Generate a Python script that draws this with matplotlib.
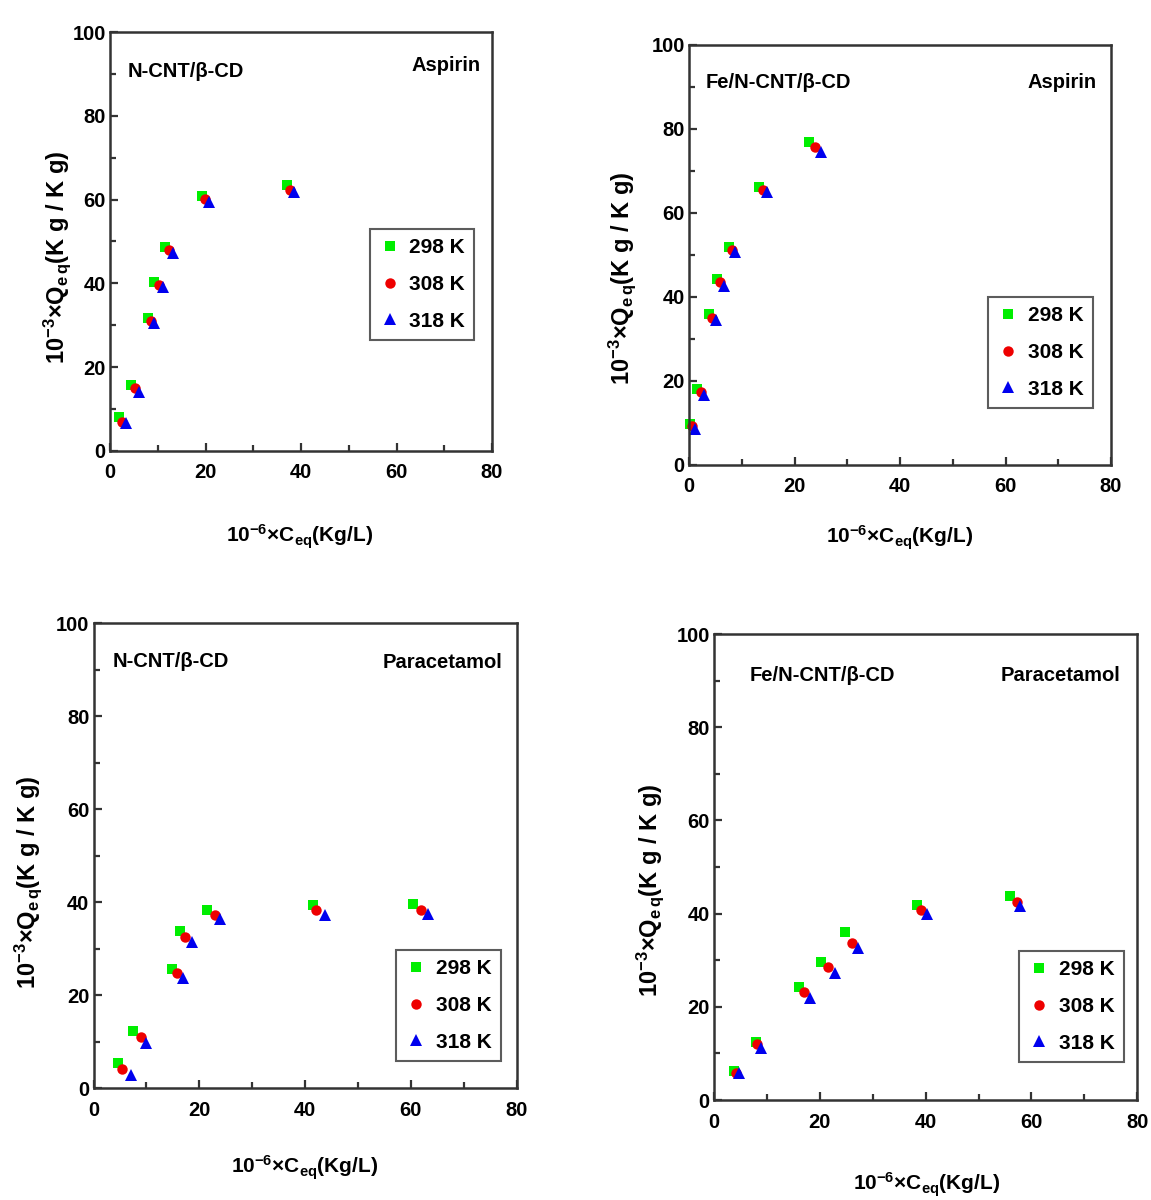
import matplotlib
matplotlib.use("Agg")
import matplotlib.pyplot as plt
from matplotlib.ticker import MultipleLocator
from matplotlib import font_manager

names = {f.name for f in font_manager.fontManager.ttflist}
NARROW = "Liberation Sans Narrow" in names
FONT = "Liberation Sans Narrow" if NARROW else "Liberation Sans"
plt.rcParams['font.family'] = [FONT, 'DejaVu Sans']
plt.rcParams['font.weight'] = 'bold'
plt.rcParams['mathtext.fontset'] = 'custom'
plt.rcParams['mathtext.rm'] = FONT + ':bold'
plt.rcParams['mathtext.it'] = FONT + ':bold'
plt.rcParams['mathtext.bf'] = FONT + ':bold'
K = 1.2 if NARROW else 1.0

series_labels = ["298 K", "308 K", "318 K"]

# Panel A: N-CNT/beta-CD, Aspirin
a_x298 = [1.95, 4.3, 8.0, 9.3, 11.6, 19.3, 37.1]
a_y298 = [8.0, 15.8, 31.8, 40.3, 48.8, 60.9, 63.6]
a_x308 = [2.5, 5.2, 8.6, 10.3, 12.3, 19.9, 37.7]
a_y308 = [7.0, 15.0, 31.1, 39.5, 48.0, 60.1, 62.4]
a_x318 = [3.4, 6.1, 9.3, 11.1, 13.2, 20.8, 38.5]
a_y318 = [6.8, 14.2, 30.5, 39.1, 47.2, 59.4, 61.9]

# Panel B: Fe/N-CNT/beta-CD, Aspirin
b_x298 = [0.2, 1.5, 3.75, 5.4, 7.6, 13.3, 22.7]
b_y298 = [9.8, 18.0, 36.0, 44.2, 52.0, 66.1, 77.0]
b_x308 = [0.57, 2.35, 4.4, 5.9, 8.1, 14.1, 23.9]
b_y308 = [9.3, 17.3, 35.0, 43.5, 51.2, 65.5, 75.6]
b_x318 = [1.08, 2.9, 5.1, 6.6, 8.8, 14.7, 25.0]
b_y318 = [8.5, 16.7, 34.5, 42.7, 50.8, 65.1, 74.6]

# Panel C: N-CNT/beta-CD, Paracetamol
c_x298 = [4.6, 7.5, 14.9, 16.4, 21.5, 41.4, 60.4]
c_y298 = [5.3, 12.3, 25.7, 33.8, 38.3, 39.4, 39.7]
c_x308 = [5.45, 9.05, 15.7, 17.3, 22.9, 42.1, 62.0]
c_y308 = [4.0, 11.0, 24.8, 32.5, 37.3, 38.3, 38.3]
c_x318 = [7.0, 9.9, 16.9, 18.7, 24.0, 43.7, 63.3]
c_y318 = [2.9, 9.7, 23.6, 31.5, 36.3, 37.2, 37.4]

# Panel D: Fe/N-CNT/beta-CD, Paracetamol
d_x298 = [3.8, 7.9, 16.0, 20.3, 24.8, 38.3, 56.0]
d_y298 = [6.3, 12.5, 24.3, 29.6, 36.1, 41.9, 43.8]
d_x308 = [4.15, 8.2, 17.0, 21.5, 26.0, 39.2, 57.2]
d_y308 = [5.9, 12.0, 23.2, 28.6, 33.7, 40.7, 42.5]
d_x318 = [4.8, 8.8, 18.1, 22.8, 27.2, 40.2, 57.9]
d_y318 = [5.7, 11.2, 21.8, 27.2, 32.7, 39.9, 41.6]

W, H = 1151, 1200
fig = plt.figure(figsize=(W / 100, H / 100), dpi=100)

def px_axes(l, r, t, b):
    return fig.add_axes([l / W, (H - b) / H, (r - l) / W, (b - t) / H])

panels = [
    dict(box=(110, 492, 32, 451), data=(a_x298, a_y298, a_x308, a_y308, a_x318, a_y318),
         left="N-CNT/β-CD", lpos=(0.045, 0.905), right="Aspirin", rpos=(0.969, 0.921),
         leg=(0.68, 0.53), ylab=(57, 257), xlab=(300, 537)),
    dict(box=(689, 1111, 45, 465), data=(b_x298, b_y298, b_x308, b_y308, b_x318, b_y318),
         left="Fe/N-CNT/β-CD", lpos=(0.04, 0.91), right="Aspirin", rpos=(0.967, 0.91),
         leg=(0.709, 0.40), ylab=(622, 278), xlab=(900, 538)),
    dict(box=(93.5, 516.7, 623.3, 1088), data=(c_x298, c_y298, c_x308, c_y308, c_x318, c_y318),
         left="N-CNT/β-CD", lpos=(0.046, 0.917), right="Paracetamol", rpos=(0.965, 0.915),
         leg=(0.715, 0.297), ylab=(28, 882), xlab=(305, 1168)),
    dict(box=(714, 1137.3, 634, 1100), data=(d_x298, d_y298, d_x308, d_y308, d_x318, d_y318),
         left="Fe/N-CNT/β-CD", lpos=(0.083, 0.912), right="Paracetamol", rpos=(0.959, 0.912),
         leg=(0.721, 0.32), ylab=(650, 890), xlab=(927, 1185)),
]

styles = [dict(marker='s', color='#00ee00', ms=6.5),
          dict(marker='o', color='#ee0000', ms=7.5),
          dict(marker='^', color='#0000ee', ms=8.5)]

for p in panels:
    ax = px_axes(*p['box'])
    d = p['data']
    for i, st in enumerate(styles):
        ax.plot(d[2 * i], d[2 * i + 1], linestyle='none', marker=st['marker'],
                color=st['color'], markersize=st['ms'], markeredgewidth=0,
                label=series_labels[i], clip_on=False)
    ax.set_xlim(0, 80)
    ax.set_ylim(0, 100)
    ax.xaxis.set_major_locator(MultipleLocator(20))
    ax.xaxis.set_minor_locator(MultipleLocator(10))
    ax.yaxis.set_major_locator(MultipleLocator(20))
    ax.yaxis.set_minor_locator(MultipleLocator(10))
    ax.tick_params(which='both', direction='in', top=False, right=False,
                   color='#333333', width=1.6, labelsize=14.5 * K)
    ax.tick_params(axis='x', which='both', pad=9)
    ax.tick_params(axis='y', which='both', pad=3)
    ax.tick_params(which='major', length=6)
    ax.tick_params(which='minor', length=4)
    for lab in ax.get_xticklabels() + ax.get_yticklabels():
        lab.set_fontweight('bold')
    for s in ax.spines.values():
        s.set_color('#333333')
        s.set_linewidth(1.8)
    ax.text(*p['lpos'], p['left'], transform=ax.transAxes, ha='left', va='center',
            fontsize=14.5 * K, fontweight='bold')
    ax.text(*p['rpos'], p['right'], transform=ax.transAxes, ha='right', va='center',
            fontsize=14.5 * K, fontweight='bold')
    leg = ax.legend(loc='upper left', bbox_to_anchor=p['leg'],
                    fontsize=15 * K, frameon=True, fancybox=False, edgecolor='#333333',
                    handlelength=1.0, handletextpad=0.45, borderaxespad=0,
                    labelspacing=0.85, borderpad=0.45)
    leg.get_frame().set_linewidth(1.5)
    for t in leg.get_texts():
        t.set_fontweight('bold')
    yx, yy = p['ylab']
    fig.text(yx / W, (H - yy) / H, r"10$^{-3}$×Q$_{e\,q}$(K g / K g)", rotation=90,
             ha='center', va='center', fontsize=17 * K, fontweight='bold')
    xx, xy = p['xlab']
    fig.text(xx / W, (H - xy) / H, r"10$^{-6}$×C$_{eq}$(Kg/L)",
             ha='center', va='center', fontsize=15 * K, fontweight='bold')

fig.savefig("out.png", dpi=100, facecolor='white')
